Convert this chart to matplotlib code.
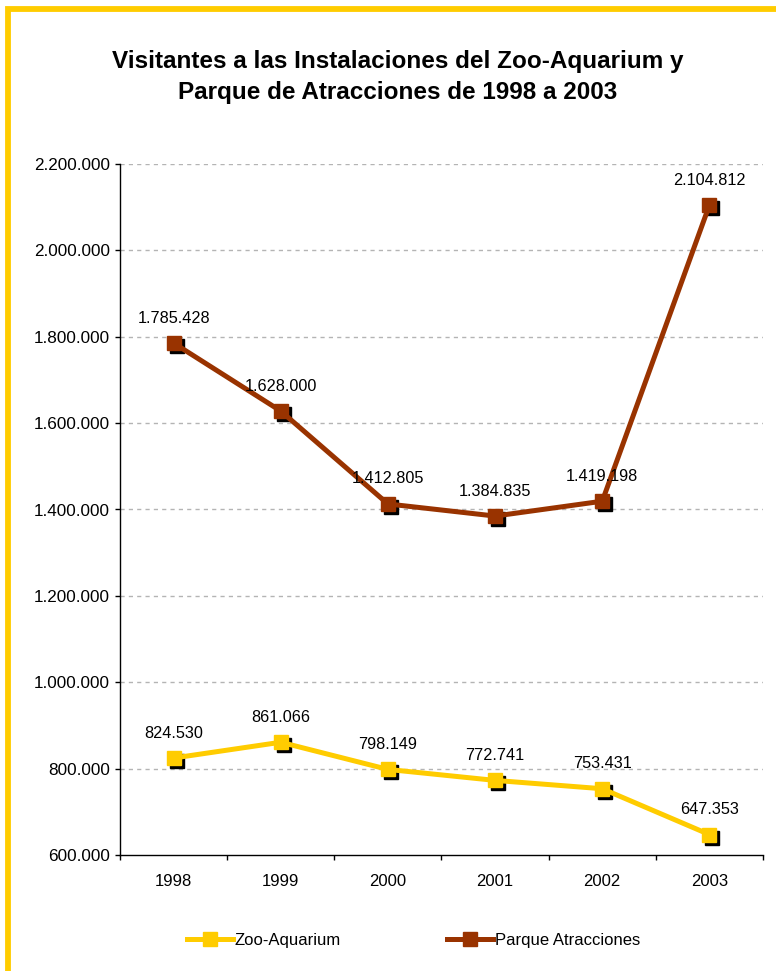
import matplotlib
matplotlib.use("Agg")
import matplotlib.pyplot as plt
from matplotlib.patches import Rectangle
from matplotlib.lines import Line2D
import matplotlib.transforms as mtransforms

plt.rcParams['font.family'] = ['Liberation Sans', 'DejaVu Sans']

years = ["1998", "1999", "2000", "2001", "2002", "2003"]
zoo = [824530, 861066, 798149, 772741, 753431, 647353]
parque = [1785428, 1628000, 1412805, 1384835, 1419198, 2104812]
series_names = ["Zoo-Aquarium", "Parque Atracciones"]
yticks = [600000, 800000, 1000000, 1200000, 1400000, 1600000, 1800000, 2000000, 2200000]
title = "Visitantes a las Instalaciones del Zoo-Aquarium y\nParque de Atracciones de 1998 a 2003"

YELLOW = "#FFCC00"
BROWN = "#993300"

def fmt(v):
    return f"{v:,}".replace(",", ".")

fig = plt.figure(figsize=(7.76, 9.71), dpi=100)
fig.patch.set_facecolor("white")

# yellow frame
fig.patches.append(Rectangle((8/776, -0.05), 1.2, 1 - 9.5/971 + 0.05, transform=fig.transFigure,
                             fill=False, edgecolor=YELLOW, linewidth=4.2, zorder=0))

ax = fig.add_axes([120/776, 1 - 855/971, (763 - 120)/776, (855 - 164)/971])
x = list(range(len(years)))

shadow = mtransforms.offset_copy(ax.transData, fig=fig, x=3, y=-3, units='dots')
for vals, col in [(zoo, YELLOW), (parque, BROWN)]:
    ax.plot(x, vals, linestyle='none', marker='s', markersize=9.5, color='black',
            transform=shadow, zorder=3, clip_on=False)
    ax.plot(x, vals, color=col, linewidth=3.6, marker='s', markersize=9.5,
            markerfacecolor=col, markeredgecolor=col, zorder=4, clip_on=False)
    for xi, v in zip(x, vals):
        ax.annotate(fmt(v), (xi, v), xytext=(0, 18), textcoords='offset points',
                    ha='center', va='center', fontsize=11.7, color='black', zorder=5)

ax.set_xlim(-0.5, len(years) - 0.5)
ax.set_ylim(yticks[0], yticks[-1])
ax.set_yticks(yticks)
ax.set_yticklabels([fmt(v) for v in yticks], fontsize=12.3)
ax.set_xticks([i - 0.5 for i in range(len(years) + 1)])
ax.set_xticklabels([])
ax.set_xticks(x, minor=True)
ax.set_xticklabels(years, minor=True, fontsize=12)
ax.tick_params(axis='x', which='minor', length=0, pad=14)
ax.tick_params(axis='x', which='major', length=3.6, width=1, direction='out')
ax.tick_params(axis='y', length=3.6, width=1, direction='out', pad=3.6)

for yv in yticks[1:]:
    ax.axhline(yv, color='#B4B4B4', linestyle=(0, (3, 3)), linewidth=1, zorder=1)

for s in ['top', 'right']:
    ax.spines[s].set_visible(False)
ax.spines['left'].set_linewidth(1)
ax.spines['bottom'].set_linewidth(1)

fig.text(398/776, 1 - 77/971, title, ha='center', va='center', fontsize=17.5,
         fontweight='bold', linespacing=1.42)

handles = [Line2D([], [], color=YELLOW, linewidth=3.6, marker='s', markersize=9.5),
           Line2D([], [], color=BROWN, linewidth=3.6, marker='s', markersize=9.5)]
fig.legend(handles, series_names, loc='center left', bbox_to_anchor=(187/776, 1 - 940/971),
           ncol=2, frameon=False, fontsize=12, handlelength=2.75, handletextpad=0.1,
           columnspacing=6.4, borderpad=0, borderaxespad=0)

fig.savefig("out.png", dpi=100, facecolor="white")
